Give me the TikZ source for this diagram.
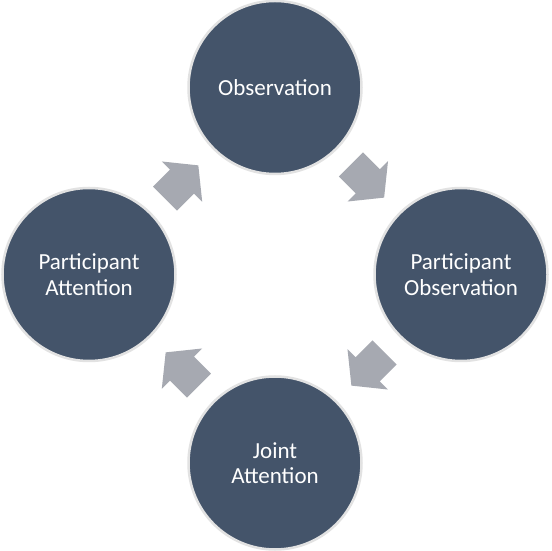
\documentclass[tikz,border=0pt]{standalone}
\usepackage{fontspec}
\setmainfont{Carlito}
\definecolor{discfill}{HTML}{44546A}
\definecolor{discrim}{HTML}{E2E2E2}
\definecolor{arrowgray}{HTML}{A6A9B1}
\begin{document}
\begin{tikzpicture}[x=1pt,y=1pt,
  disc/.style={circle, fill=discfill, draw=discrim, line width=2.5pt,
    minimum size=173pt, inner sep=0pt, text=white, align=center,
    font=\fontsize{23}{25.3}\selectfont},
  blockarrow/.style={fill=arrowgray}]
\useasboundingbox (0,0) rectangle (551,551);
\fill[white] (0,0) rectangle (551,551);
\node[disc] (obs) at (275,463.5) {Observation};
\node[disc] (pobs) at (461,276.5) {Participant\\Observation};
\node[disc] (joint) at (275,88) {Joint\\Attention};
\node[disc] (patt) at (89,276.5) {Participant\\Attention};
\foreach \cx/\cy/\ang in {367.5/370/-45, 368/182/-135, 182.3/182/135, 181.7/369/45}{
  \fill[blockarrow, shift={(\cx,\cy)}, rotate=\ang]
    (-23.5,-17) -- (0.5,-17) -- (0.5,-28.5) -- (23.5,0) -- (0.5,28.5) -- (0.5,17) -- (-23.5,17) -- cycle;
}
\end{tikzpicture}
\end{document}
